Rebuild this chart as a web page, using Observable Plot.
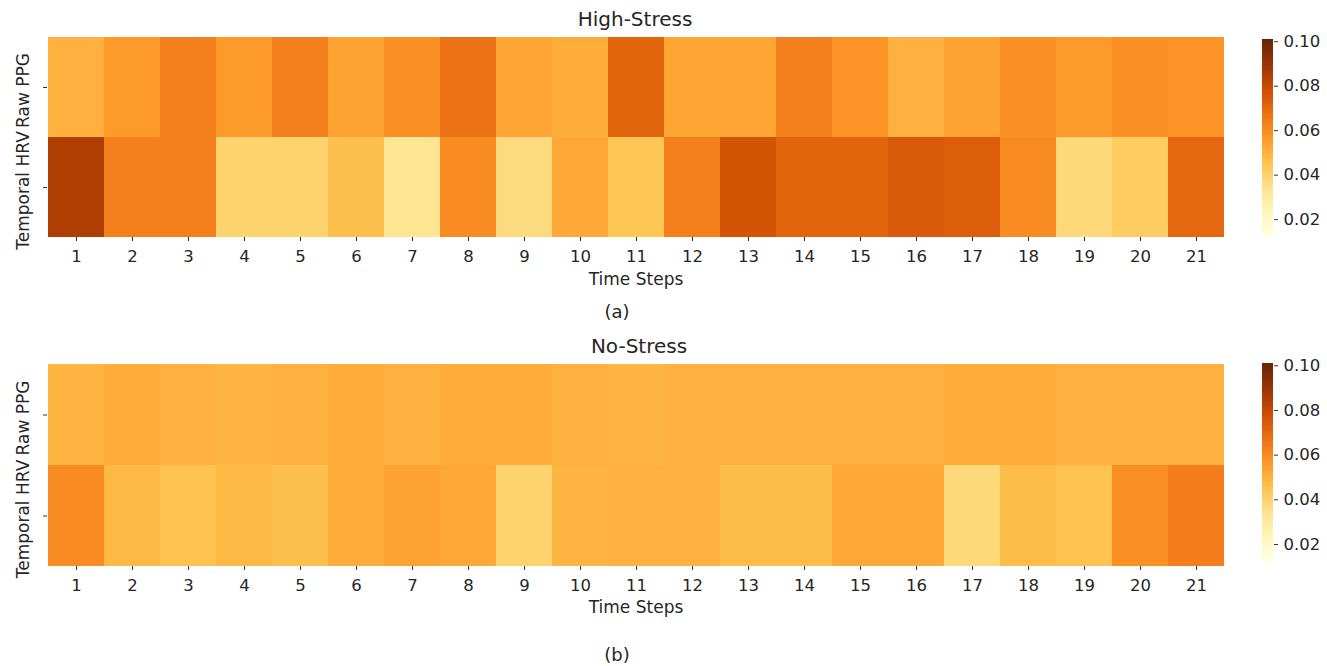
<!DOCTYPE html>
<html><head><meta charset="utf-8">
<script src="https://cdn.jsdelivr.net/npm/d3@7"></script>
<script src="https://cdn.jsdelivr.net/npm/@observablehq/plot@0.6"></script>
<style>
body{margin:0;background:#fff;}
#root{position:relative;width:1327px;height:666px;overflow:hidden;font-family:"DejaVu Sans",sans-serif;color:#262626;background:#fff;}
.svgbox{position:absolute;}
.svgbox svg{max-width:none !important;}
.txt{position:absolute;transform:translate(-50%,-50%);white-space:nowrap;line-height:1;}
</style></head><body><div id="root"></div>
<script>
// ---- data ----
const steps = [1,2,3,4,5,6,7,8,9,10,11,12,13,14,15,16,17,18,19,20,21];
const rows = ["Raw PPG", "Temporal HRV"];           // top row, bottom row (tick labels)
const highRawPPG      = [0.050,0.056,0.063,0.056,0.063,0.054,0.059,0.067,0.053,0.051,0.071,0.053,0.053,0.063,0.058,0.050,0.054,0.059,0.056,0.059,0.058];
const highTemporalHRV = [0.085,0.063,0.063,0.040,0.040,0.046,0.033,0.060,0.037,0.052,0.044,0.063,0.076,0.071,0.071,0.074,0.073,0.060,0.038,0.042,0.070];
const noRawPPG        = [0.049,0.051,0.050,0.049,0.050,0.051,0.050,0.051,0.051,0.050,0.049,0.050,0.050,0.050,0.050,0.050,0.051,0.051,0.050,0.050,0.050];
const noTemporalHRV   = [0.060,0.048,0.045,0.048,0.046,0.051,0.054,0.052,0.040,0.049,0.050,0.050,0.047,0.047,0.052,0.052,0.038,0.047,0.045,0.059,0.064];
const cbarTicks = [0.02, 0.04, 0.06, 0.08, 0.10];
const colorMin = 0.0115, colorMax = 0.101;
const ylorbr = ["#ffffe5","#fff7bc","#fee391","#fec44f","#fe9929","#ec7014","#cc4c02","#993404","#662506"];

// ---- shared scale ----
const colorStops = ylorbr.map((_, i) => colorMin + (colorMax - colorMin) * i / (ylorbr.length - 1));
const colorOpts = {type: "linear", domain: colorStops, range: ylorbr, interpolate: "rgb", clamp: true};
const root = document.getElementById("root");
const FONT = "DejaVu Sans";

function place(node, left, top, w) {
  const d = document.createElement("div");
  d.className = "svgbox";
  d.style.left = left + "px";
  d.style.top = top + "px";
  d.style.width = w + "px";
  d.appendChild(node);
  root.appendChild(d);
}
function label(text, cx, cy, size) {
  const d = document.createElement("div");
  d.className = "txt";
  d.style.left = cx + "px";
  d.style.top = cy + "px";
  d.style.fontSize = size + "px";
  d.textContent = text;
  root.appendChild(d);
}

function heatmap(series, top, mt, mb, xLabelDy) {
  const data = rows.flatMap((r, i) => steps.map((s, j) => ({step: s, row: r, value: series[i][j]})));
  const svg = Plot.plot({
    width: 1327, height: 300,
    marginLeft: 47, marginRight: 1327 - 1224, marginTop: mt, marginBottom: mb,
    style: {fontFamily: FONT, fontSize: "16px", color: "#262626", background: "transparent", overflow: "visible"},
    x: {domain: steps, padding: 0, label: null},
    y: {domain: rows, padding: 0, label: null},
    color: colorOpts,
    marks: [
      Plot.cell(data, {x: "step", y: "row", fill: "value", inset: 0, shapeRendering: "crispEdges"}),
      Plot.axisX({tickSize: 4, tickPadding: 9, fontSize: 16.5, label: null, stroke: "#333"}),
      Plot.axisY({tickSize: 4, tickFormat: () => "", label: null, stroke: "#333"}),
      Plot.text(rows, {y: d => d, text: d => d, frameAnchor: "left", textAnchor: "middle", lineAnchor: "middle", rotate: -90, dx: -24, dy: 3, fontSize: 17, fill: "#262626"}),
      Plot.text(["Time Steps"], {frameAnchor: "bottom", dy: xLabelDy, fontSize: 17, fill: "#262626"})
    ]
  });
  place(svg, 0, top, 1327);
}

function colorbar(top, mt, mb) {
  const n = 240;
  const slices = d3.range(n).map(i => colorMin + (colorMax - colorMin) * i / n);
  const h = (colorMax - colorMin) / n;
  const svg = Plot.plot({
    width: 80, height: 300,
    marginLeft: 0, marginRight: 69, marginTop: mt, marginBottom: mb,
    style: {fontFamily: FONT, fontSize: "16px", color: "#262626", background: "transparent", overflow: "visible"},
    x: {domain: [0, 1], axis: null},
    y: {domain: [colorMin, colorMax], label: null},
    color: colorOpts,
    marks: [
      Plot.rect(slices, {x1: 0, x2: 1, y1: d => d, y2: d => d + h * 1.05, fill: d => d + h / 2, inset: 0, shapeRendering: "crispEdges"}),
      Plot.axisY({anchor: "right", ticks: cbarTicks, tickFormat: d3.format(".2f"), tickSize: 4, tickPadding: 6, fontSize: 16.5, label: null, stroke: "#333"})
    ]
  });
  place(svg, 1262, top, 80);
}

heatmap([highRawPPG, highTemporalHRV], 0, 36, 63, 47);
heatmap([noRawPPG, noTemporalHRV], 327, 36, 61, 46);
colorbar(0, 39, 62);
colorbar(327, 36, 64);

label("High-Stress", 635, 19, 20);
label("(a)", 617, 312, 18);
label("No-Stress", 639, 346, 20);
label("(b)", 617, 655, 18);
</script>
</body></html>
